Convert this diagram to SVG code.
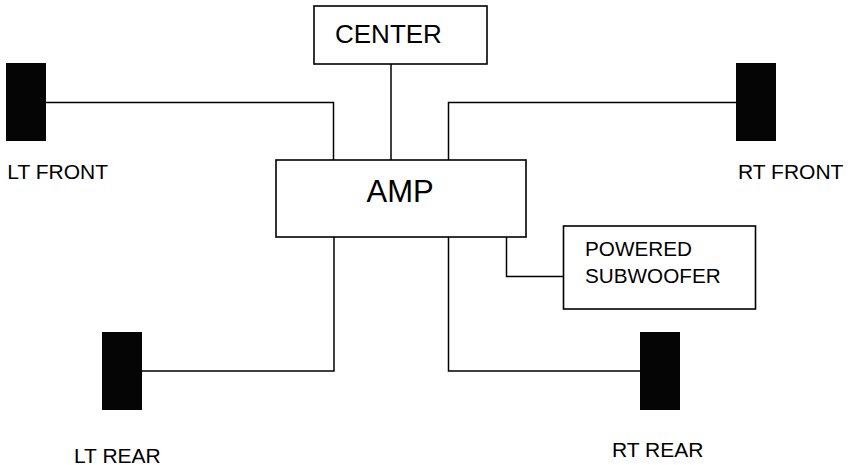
<svg xmlns="http://www.w3.org/2000/svg" width="854" height="465" viewBox="0 0 854 465">
<style>
.box{fill:#fff;stroke:#000;stroke-width:1.6}
.spk{fill:#050505;stroke:none}
.wire{fill:none;stroke:#000;stroke-width:1.5}
text{font-family:"Liberation Sans",Arial,sans-serif;fill:#000}
.lbl{font-size:21px}
</style>
<rect width="854" height="465" fill="#fff"/>
<g id="connectors">
<polyline class="wire" points="46,102.5 333.5,102.5 333.5,160"/>
<polyline class="wire" points="391,64 391,160"/>
<polyline class="wire" points="736,102.5 448.5,102.5 448.5,160"/>
<polyline class="wire" points="334,237 334,371 142,371"/>
<polyline class="wire" points="448.5,237 448.5,371 640,371"/>
<polyline class="wire" points="506.5,237 506.5,276.5 563,276.5"/>
</g>
<g id="center">
<rect class="box" x="314" y="6" width="173" height="58"/>
<text x="335" y="43.3" font-size="26">CENTER</text>
</g>
<g id="amp">
<rect class="box" x="276" y="160" width="250" height="77"/>
<text x="366.5" y="201.7" font-size="31">AMP</text>
</g>
<g id="subwoofer">
<rect class="box" x="563.5" y="226" width="192" height="83"/>
<text x="585" y="255.7" font-size="20.7">POWERED</text>
<text x="585" y="282.7" font-size="20.7">SUBWOOFER</text>
</g>
<g id="lt-front">
<rect class="spk" x="6" y="63" width="40" height="78"/>
<text class="lbl" x="7.3" y="179">LT FRONT</text>
</g>
<g id="rt-front">
<rect class="spk" x="736" y="63" width="40" height="78"/>
<text class="lbl" x="738" y="178.7">RT FRONT</text>
</g>
<g id="lt-rear">
<rect class="spk" x="102" y="332" width="40" height="78"/>
<text class="lbl" x="74" y="462.7">LT REAR</text>
</g>
<g id="rt-rear">
<rect class="spk" x="640" y="332" width="40" height="78"/>
<text class="lbl" x="612" y="457.3">RT REAR</text>
</g>
</svg>
